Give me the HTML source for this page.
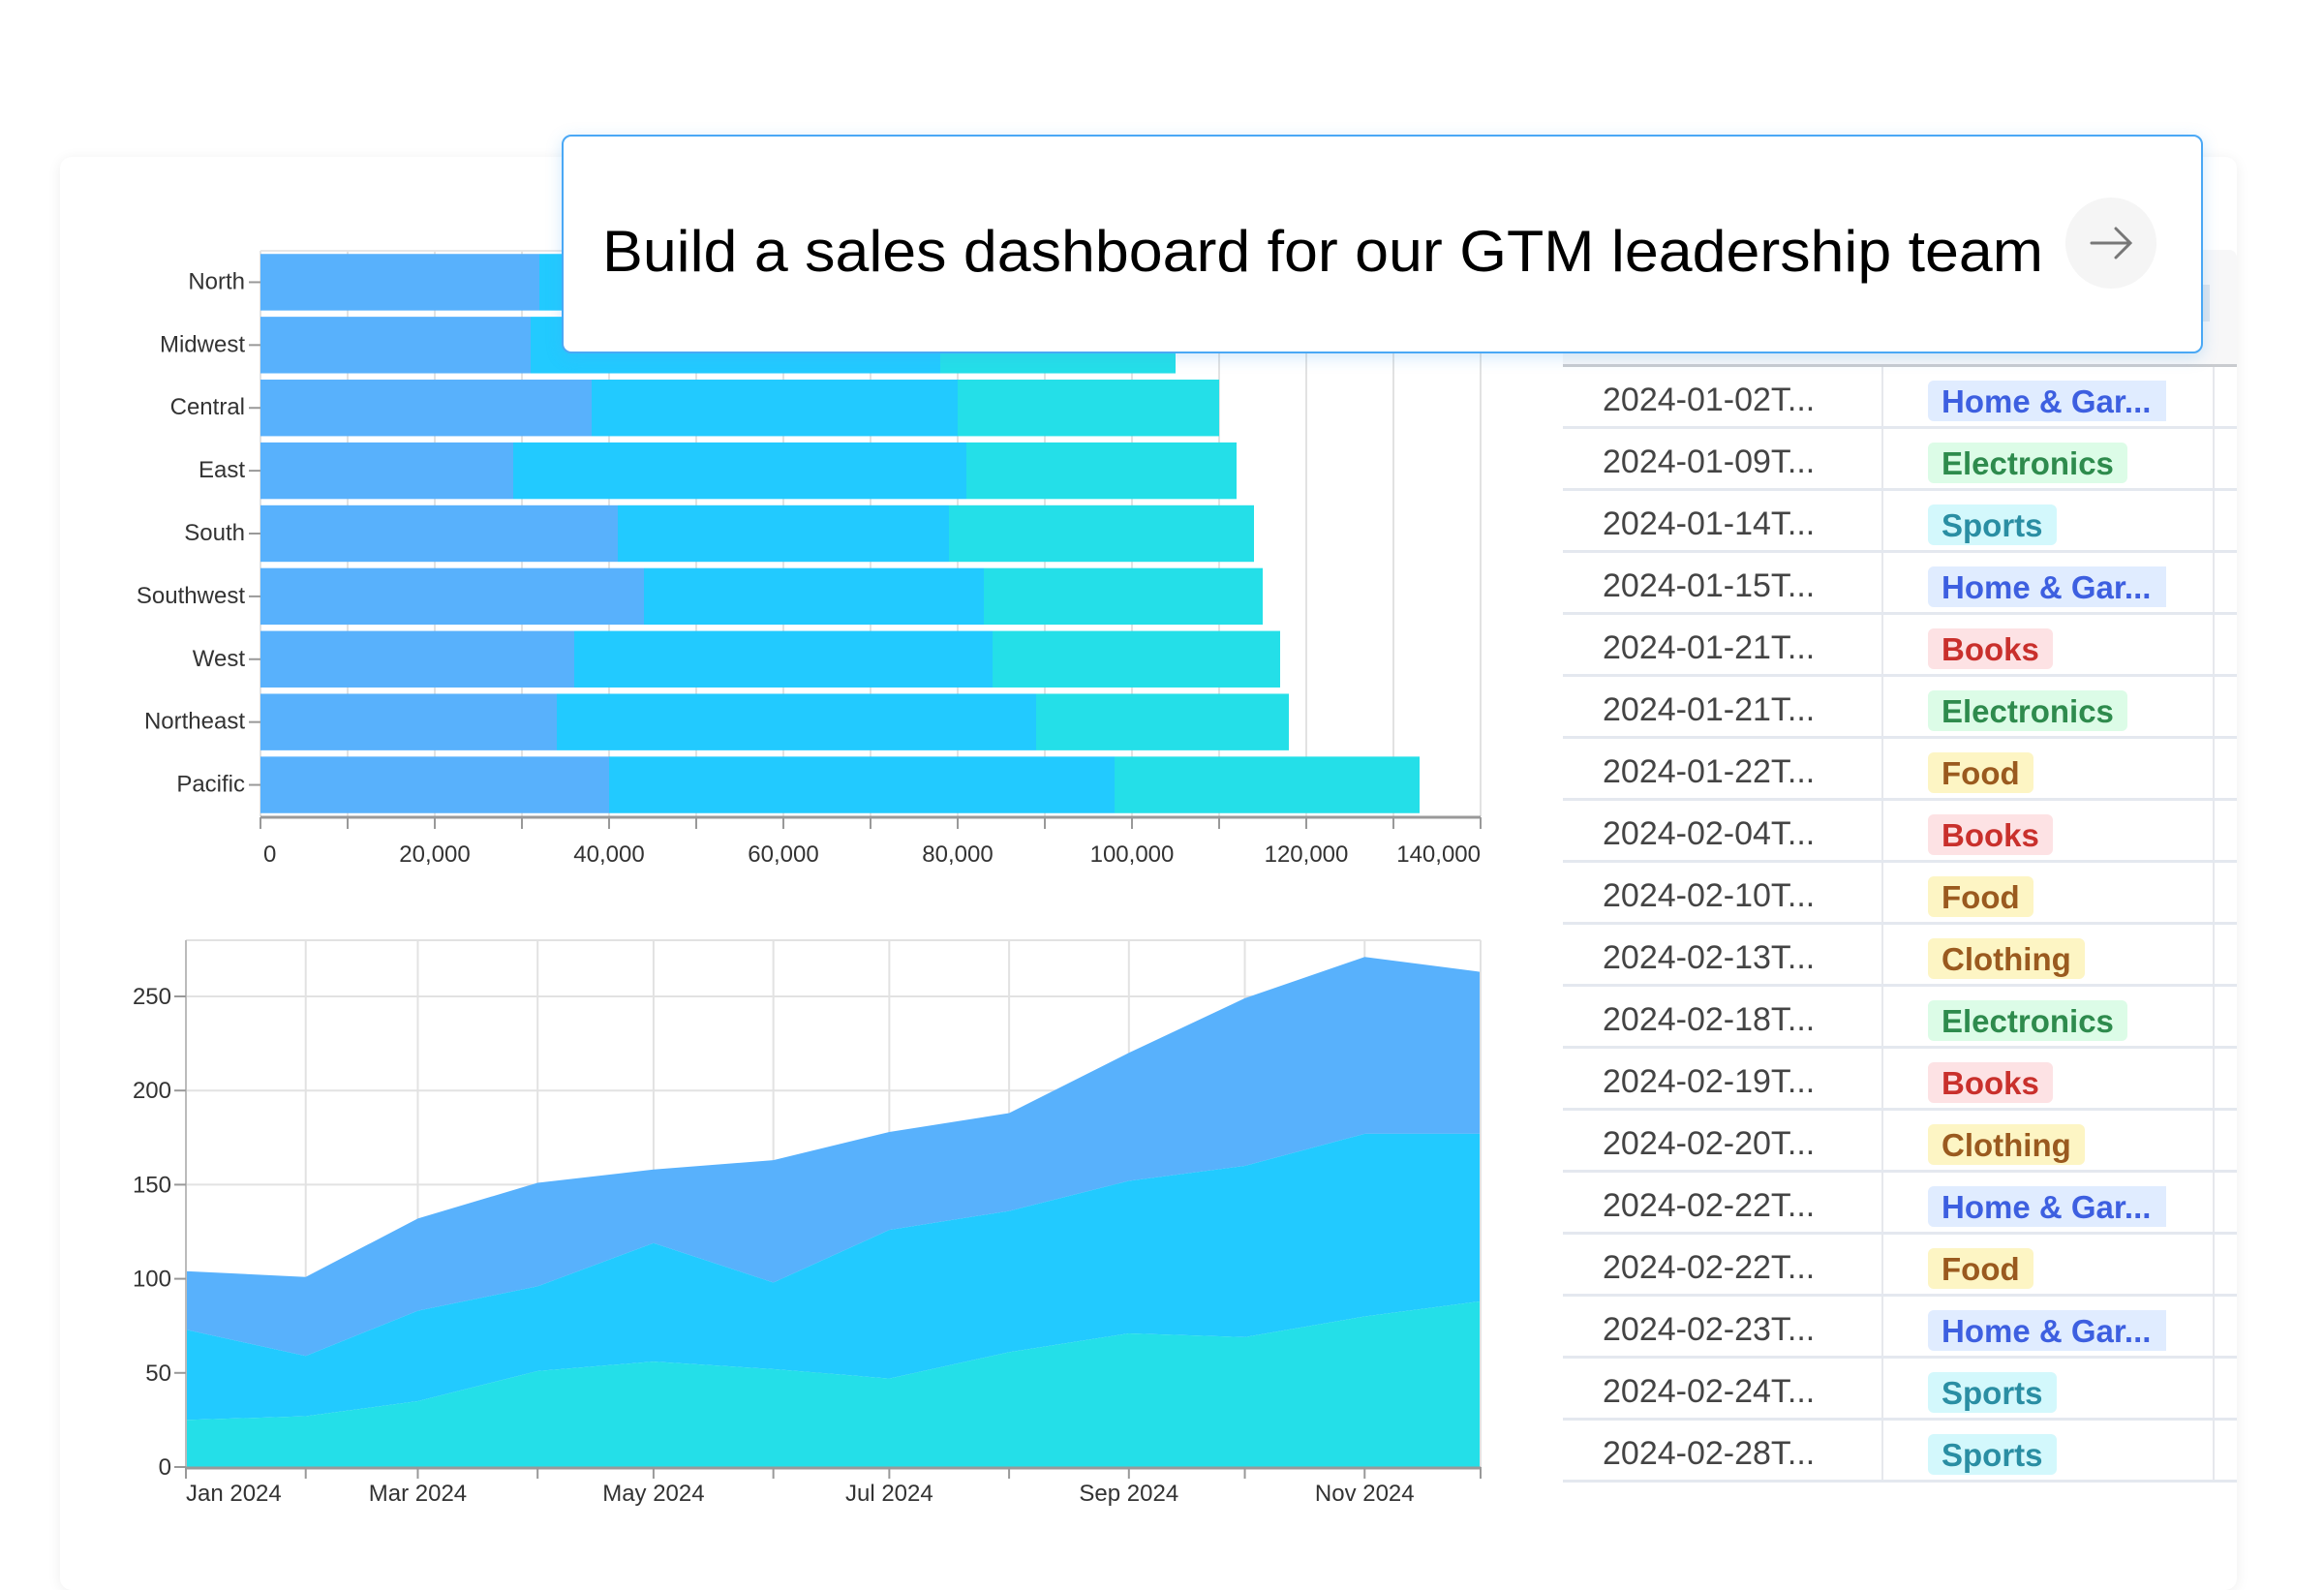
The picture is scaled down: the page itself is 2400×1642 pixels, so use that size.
<!DOCTYPE html>
<html><head><meta charset="utf-8">
<style>
html,body{margin:0;padding:0;background:#fff;}
body{width:2400px;height:1600px;position:relative;overflow:hidden;font-family:"Liberation Sans",sans-serif;}
#card{position:absolute;left:62px;top:162px;width:2248px;height:1480px;background:#fff;border-radius:12px;box-shadow:0 2px 14px rgba(0,0,0,0.07);}
#charts{position:absolute;left:0;top:0;}
#table{position:absolute;left:1614px;top:258px;width:696px;}
.thead{height:118px;background:#f7f7f8;border-bottom:3px solid #c9cbcf;border-radius:8px 8px 0 0;position:relative;}
.row{height:61px;border-bottom:3px solid #e4e8ef;position:relative;background:#fff;}
.date{position:absolute;left:41px;top:3px;line-height:62px;font-size:34px;color:#444;}
.div1{position:absolute;left:329px;top:0;width:2px;height:100%;background:#e6e8ec;}
.div2{position:absolute;left:671px;top:0;width:2px;height:100%;background:#e6e8ec;}
.badge{position:absolute;left:377px;top:14px;height:42px;line-height:43px;padding:0 14px;font-size:33px;font-weight:bold;border-radius:6px;}
.home{background:#e0ecff;color:#3d5fe0;width:218px;padding:0 14px;border-radius:6px 0 0 6px;}
.elec{background:#dcfce7;color:#2e8b4d;}
.sports{background:#d3f8fc;color:#2a8ea3;}
.books{background:#fde2e4;color:#c9302c;}
.food{background:#fdf5c4;color:#9a5a1f;}
.cloth{background:#fdf5c4;color:#9a5a1f;}
#popup{position:absolute;left:580px;top:139px;width:1691px;height:222px;border:2px solid #4aa8f5;border-radius:10px;background:#fff;box-shadow:0 4px 16px rgba(74,168,245,0.25);}
</style></head>
<body>
<div id="card"></div>

<div id="table">
  <div class="thead">
    <div style="position:absolute;left:644px;top:36px;width:24px;height:38px;background:#dfe6ee;"></div>
  </div>
  <div id="rows"></div>
</div>

<svg id="charts" width="2400" height="1600" xmlns="http://www.w3.org/2000/svg" font-family="Liberation Sans, sans-serif">
  <g id="bar-chart"></g>
  <g id="area-chart"></g>
</svg>

<div id="popup">
  <svg width="1691" height="222" style="position:absolute;left:0;top:0;">
    <text x="40" y="139" font-size="60" fill="#000" font-family="Liberation Sans, sans-serif" textLength="1488" lengthAdjust="spacingAndGlyphs">Build a sales dashboard for our GTM leadership team</text>
    <g>
      <circle cx="1598" cy="110" r="47" fill="#f5f5f5"/>
      <path d="M1578 110 L1617 110 M1603 95 L1618 110 L1603 125" stroke="#777" stroke-width="3" fill="none" stroke-linecap="round"/>
    </g>
  </svg>
</div>

<script>
// ---------- Bar chart data ----------
const regions = ["North","Midwest","Central","East","South","Southwest","West","Northeast","Pacific"];
const seriesA = [32000,31000,38000,29000,41000,44000,36000,34000,40000];
const seriesB = [46000,47000,42000,52000,38000,39000,48000,55000,58000];
const seriesC = [26000,27000,30000,31000,35000,32000,33000,29000,35000];
const barTicks = [0,20000,40000,60000,80000,100000,120000,140000];
const barColors = ["#58b1fc","#22caff","#24dfe8"];

// ---------- Area chart data ----------
const months = ["Jan 2024","Feb 2024","Mar 2024","Apr 2024","May 2024","Jun 2024","Jul 2024","Aug 2024","Sep 2024","Oct 2024","Nov 2024","Dec 2024"];
const monthDays = [0,31,60,91,121,152,182,213,244,274,305,335];
const areaBottom = [25,27,35,51,56,52,47,61,71,69,80,88];
const areaMiddle = [48,32,48,45,63,46,79,75,81,91,97,89];
const areaTop = [31,42,49,55,39,65,52,52,68,89,94,86];
const areaYTicks = [0,50,100,150,200,250];

// ---------- Table data ----------
const dates = ["2024-01-02T...","2024-01-09T...","2024-01-14T...","2024-01-15T...","2024-01-21T...","2024-01-21T...","2024-01-22T...","2024-02-04T...","2024-02-10T...","2024-02-13T...","2024-02-18T...","2024-02-19T...","2024-02-20T...","2024-02-22T...","2024-02-22T...","2024-02-23T...","2024-02-24T...","2024-02-28T..."];
const cats = ["Home & Gar...","Electronics","Sports","Home & Gar...","Books","Electronics","Food","Books","Food","Clothing","Electronics","Books","Clothing","Home & Gar...","Food","Home & Gar...","Sports","Sports"];

const NS = "http://www.w3.org/2000/svg";
function mk(tag, attrs, parent){
  const e = document.createElementNS(NS, tag);
  for (const k in attrs) e.setAttribute(k, attrs[k]);
  parent.appendChild(e);
  return e;
}

// ---- bar chart ----
(function(){
  const g = document.getElementById("bar-chart");
  const x0 = 269, x1 = 1529, top = 259, bottom = 843;
  const xs = v => x0 + (v / 140000) * (x1 - x0);
  const band = (bottom - top) / regions.length;
  for (let v = 0; v <= 140000; v += 10000) {
    const gl = mk("line", {x1: xs(v), x2: xs(v), y1: top, y2: bottom, stroke: "#e2e2e2", "stroke-width": 2}, g);
    
    
    const tk = mk("line", {x1: xs(v), x2: xs(v), y1: 844, y2: 856, stroke: "#999", "stroke-width": 2}, g);
    
    
  }
  mk("line", {x1: x0, x2: x1, y1: top, y2: top, stroke: "#e6e6e6", "stroke-width": 2}, g);
  regions.forEach((r, i) => {
    const yb = top + band * i + band * 0.05;
    const h = band * 0.9;
    const vals = [seriesA[i], seriesB[i], seriesC[i]];
    let acc = 0;
    vals.forEach((v, j) => {
      const rect = mk("rect", {x: xs(acc), y: yb, width: xs(acc + v) - xs(acc), height: h, fill: barColors[j]}, g);
      
      
      acc += v;
    });
    const cy = top + band * (i + 0.5);
    mk("line", {x1: 257, x2: 269, y1: cy, y2: cy, stroke: "#999", "stroke-width": 2}, g);
    const t = mk("text", {x: 253, y: cy + 7, "text-anchor": "end", "font-size": 24, fill: "#333"}, g);
    t.textContent = r;
    
    
  });
  const ax = mk("line", {x1: x0, x2: x1, y1: 844, y2: 844, stroke: "#999", "stroke-width": 3}, g);
  
  
  barTicks.forEach((v, i) => {
    const last = i === barTicks.length - 1;
    const first = i === 0;
    const t = mk("text", {x: last ? x1 : (first ? xs(v) + 3 : xs(v)), y: 890, "text-anchor": last ? "end" : (first ? "start" : "middle"), "font-size": 24, fill: "#333"}, g);
    t.textContent = v.toLocaleString("en-US");
    
    
  });
})();

// ---- area chart ----
(function(){
  const g = document.getElementById("area-chart");
  const x0 = 192, x1 = 1529, y0 = 1515, top = 971;
  const xs = d => x0 + (d / 335) * (x1 - x0);
  const ys = v => y0 - v * 1.944;
  mk("line", {x1: x0, x2: x1, y1: top, y2: top, stroke: "#e2e2e2", "stroke-width": 2}, g);
  monthDays.forEach(d => {
    const gl = mk("line", {x1: xs(d), x2: xs(d), y1: top, y2: y0, stroke: "#e2e2e2", "stroke-width": 2}, g);
    
    
  });
  areaYTicks.forEach(v => {
    const gl = mk("line", {x1: x0, x2: x1, y1: ys(v), y2: ys(v), stroke: "#e2e2e2", "stroke-width": 2}, g);
    
    
  });
  const s1 = areaBottom;
  const s2 = areaBottom.map((v, i) => v + areaMiddle[i]);
  const s3 = s2.map((v, i) => v + areaTop[i]);
  const layers = [[s2, s3, "#58b1fc", "area-series-top"], [s1, s2, "#22caff", "area-series-middle"], [null, s1, "#24dfe8", "area-series-bottom"]];
  layers.forEach(([lo, hi, col, nm]) => {
    let d = "";
    hi.forEach((v, i) => { d += (i ? "L" : "M") + xs(monthDays[i]).toFixed(1) + " " + ys(v).toFixed(1) + " "; });
    for (let i = hi.length - 1; i >= 0; i--) {
      d += "L" + xs(monthDays[i]).toFixed(1) + " " + ys(lo ? lo[i] : 0).toFixed(1) + " ";
    }
    d += "Z";
    const p = mk("path", {d: d, fill: col}, g);
    
    
  });
  mk("line", {x1: x0, x2: x0, y1: top, y2: y0, stroke: "#bbb", "stroke-width": 2}, g);
  mk("line", {x1: x1, x2: x1, y1: top, y2: y0, stroke: "#e2e2e2", "stroke-width": 2}, g);
  const ax = mk("line", {x1: x0, x2: x1, y1: y0 + 1, y2: y0 + 1, stroke: "#999", "stroke-width": 3}, g);
  
  
  areaYTicks.forEach(v => {
    mk("line", {x1: 180, x2: 192, y1: ys(v), y2: ys(v), stroke: "#999", "stroke-width": 2}, g);
    const t = mk("text", {x: 177, y: ys(v) + 8, "text-anchor": "end", "font-size": 24, fill: "#333"}, g);
    t.textContent = v;
    
    
  });
  monthDays.forEach((d, i) => {
    mk("line", {x1: xs(d), x2: xs(d), y1: y0, y2: y0 + 12, stroke: "#999", "stroke-width": 2}, g);
    if (i % 2 === 0) {
      const t = mk("text", {x: xs(d), y: 1550, "text-anchor": i === 0 ? "start" : "middle", "font-size": 24, fill: "#333"}, g);
      t.textContent = months[i];
      
      
    }
  });
})();

// ---- table rows ----
(function(){
  const wrap = document.getElementById("rows");
  const cls = {"Home & Gar...":"home","Electronics":"elec","Sports":"sports","Books":"books","Food":"food","Clothing":"cloth"};
  dates.forEach((d, i) => {
    const row = document.createElement("div");
    row.className = "row";
    
    
    const dt = document.createElement("div");
    dt.className = "date";
    dt.textContent = d;
    
    
    const b = document.createElement("span");
    b.className = "badge " + cls[cats[i]];
    b.textContent = cats[i];
    
    
    const d1 = document.createElement("div"); d1.className = "div1";
    const d2 = document.createElement("div"); d2.className = "div2";
    row.appendChild(dt); row.appendChild(d1); row.appendChild(b); row.appendChild(d2);
    wrap.appendChild(row);
  });
})();
</script>
</body></html>
